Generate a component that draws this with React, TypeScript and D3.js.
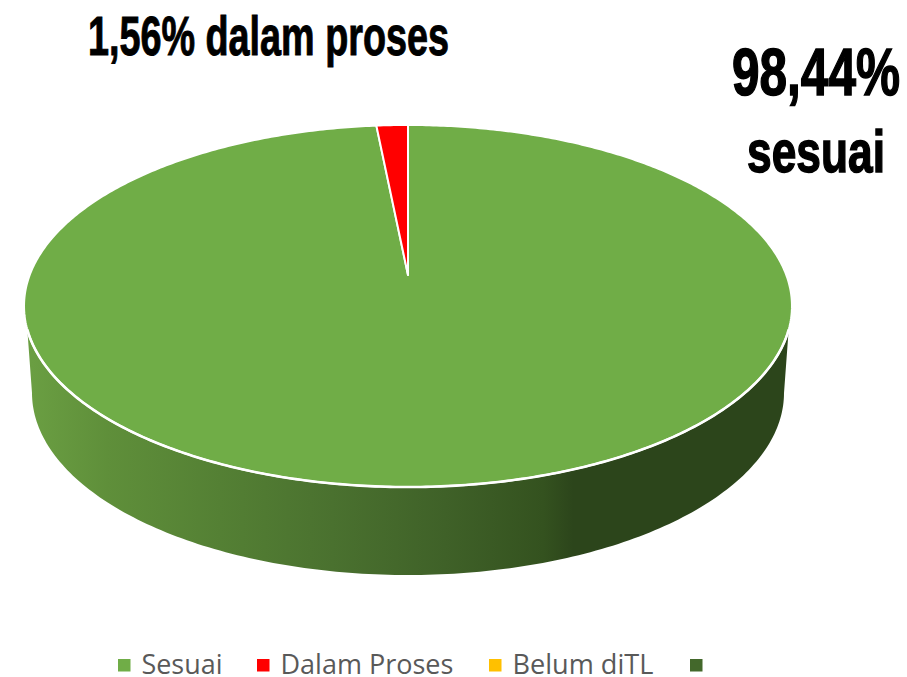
import React, { useLayoutEffect, useRef } from "react";
import * as d3 from "d3";

const categories = ["Sesuai", "Dalam Proses", "Belum diTL", ""];
const values = [98.44, 1.56, 0, 0];
const colors = ["#70ad47", "#ff0000", "#ffc000", "#43682b"];
const legendMarkerX = [118, 257, 489, 690];
const legendTextWidth = [81, 173, 141, 0];
const sideStops: [number, string][] = [
  [0, "#6a9e42"], [0.1, "#5f8f3a"], [0.25, "#548034"], [0.4, "#4a712f"],
  [0.55, "#3f6128"], [0.68, "#34521f"], [0.72, "#2c451b"], [1, "#2c451b"],
];

const W = 907, H = 677;
const CX = 408, APEX_Y = 275;
const PC = 0.1713, PA = -128.6, PK = 378.3;

// Perspective projection of the unit disc seen from above
const project = (r: number, a: number): [number, number] => {
  const u = r * Math.sin(a), v = r * Math.cos(a);
  const d = 1 + PC * v;
  return [CX + (PK * u) / d, (APEX_Y + PA * v) / d];
};

const rim = (a0: number, a1: number) => {
  const n = Math.max(2, Math.ceil(Math.abs(a1 - a0) * 90));
  return d3.range(n + 1).map((i) => project(1, a0 + ((a1 - a0) * i) / n));
};

const line = d3.line<[number, number]>();
const pie = d3.pie<number>().sort(null).value((d) => d);
const arcs = pie(values);

const sideAngle = Math.PI / 2 + 0.3; // where the wall leaves the top rim
const BX = 376, BY = 182, BCY = 393;
const bottomEdge = d3.range(0, 181).map((i): [number, number] => {
  const t = Math.PI - (i / 180) * Math.PI;
  return [CX + BX * Math.cos(t), BCY + BY * Math.sin(t)];
});
const frontRim = rim(2 * Math.PI - sideAngle, sideAngle);
const wallPts: [number, number][] = [...frontRim, ...[...bottomEdge].reverse()];

const scaleSide = d3.scaleLinear().domain([0, 1]).range([CX - BX, CX + BX]);

const font = "'Liberation Sans Narrow','Liberation Sans',sans-serif";

function FitText(props: {
  x: number; y: number; width: number; size: number; family: string;
  weight?: number; fill: string; stroke?: number; children: string;
}) {
  const ref = useRef<SVGTextElement>(null);
  useLayoutEffect(() => {
    const el = ref.current;
    if (!el) return;
    const k = props.width / el.getComputedTextLength();
    el.setAttribute("transform", `translate(${props.x},${props.y}) scale(${k},1)`);
  });
  return (
    <text
      ref={ref}
      transform={`translate(${props.x},${props.y})`}
      fontFamily={props.family}
      fontWeight={props.weight ?? 400}
      fontSize={props.size}
      fill={props.fill}
      stroke={props.stroke ? props.fill : "none"}
      strokeWidth={props.stroke ?? 0}
    >
      {props.children}
    </text>
  );
}

export default function App() {
  return (
    <svg
      width={W}
      height={H}
      viewBox={`0 0 ${W} ${H}`}
      style={{ position: "absolute", left: 0, top: 0, display: "block", background: "#fff" }}
    >
      <defs>
        <linearGradient id="side" gradientUnits="userSpaceOnUse" x1={scaleSide(0)} x2={scaleSide(1)} y1={0} y2={0}>
          {sideStops.map(([o, c], i) => (
            <stop key={i} offset={o} stopColor={c} />
          ))}
        </linearGradient>
      </defs>

      <path d={(line(wallPts) ?? "") + "Z"} fill="url(#side)" />

      {arcs.map((a, i) =>
        a.endAngle - a.startAngle > 0 ? (
          <path
            key={i}
            d={(line([[CX, APEX_Y], ...rim(a.startAngle, a.endAngle)]) ?? "") + "Z"}
            fill={colors[i]}
            stroke="#fff"
            strokeWidth={2}
            strokeLinejoin="round"
          />
        ) : null
      )}
      <path d={line(frontRim) ?? ""} fill="none" stroke="#fff" strokeWidth={2.6} />

      <FitText x={88} y={55} width={361} size={56} family={font} weight={700} fill="#000" stroke={1}>
        1,56% dalam proses
      </FitText>
      <FitText x={732} y={95} width={168} size={67} family={font} weight={700} fill="#000" stroke={1.5}>
        98,44%
      </FitText>
      <FitText x={747} y={172} width={138} size={60} family={font} weight={700} fill="#000" stroke={1.5}>
        sesuai
      </FitText>

      {categories.map((c, i) => (
        <g key={i}>
          <rect x={legendMarkerX[i]} y={659} width={12.5} height={12.5} fill={colors[i]} />
          {c ? (
            <FitText x={legendMarkerX[i] + 23.5} y={674} width={legendTextWidth[i]} size={27} family="'Open Sans',sans-serif" fill="#595959">
              {c}
            </FitText>
          ) : null}
        </g>
      ))}
    </svg>
  );
}
